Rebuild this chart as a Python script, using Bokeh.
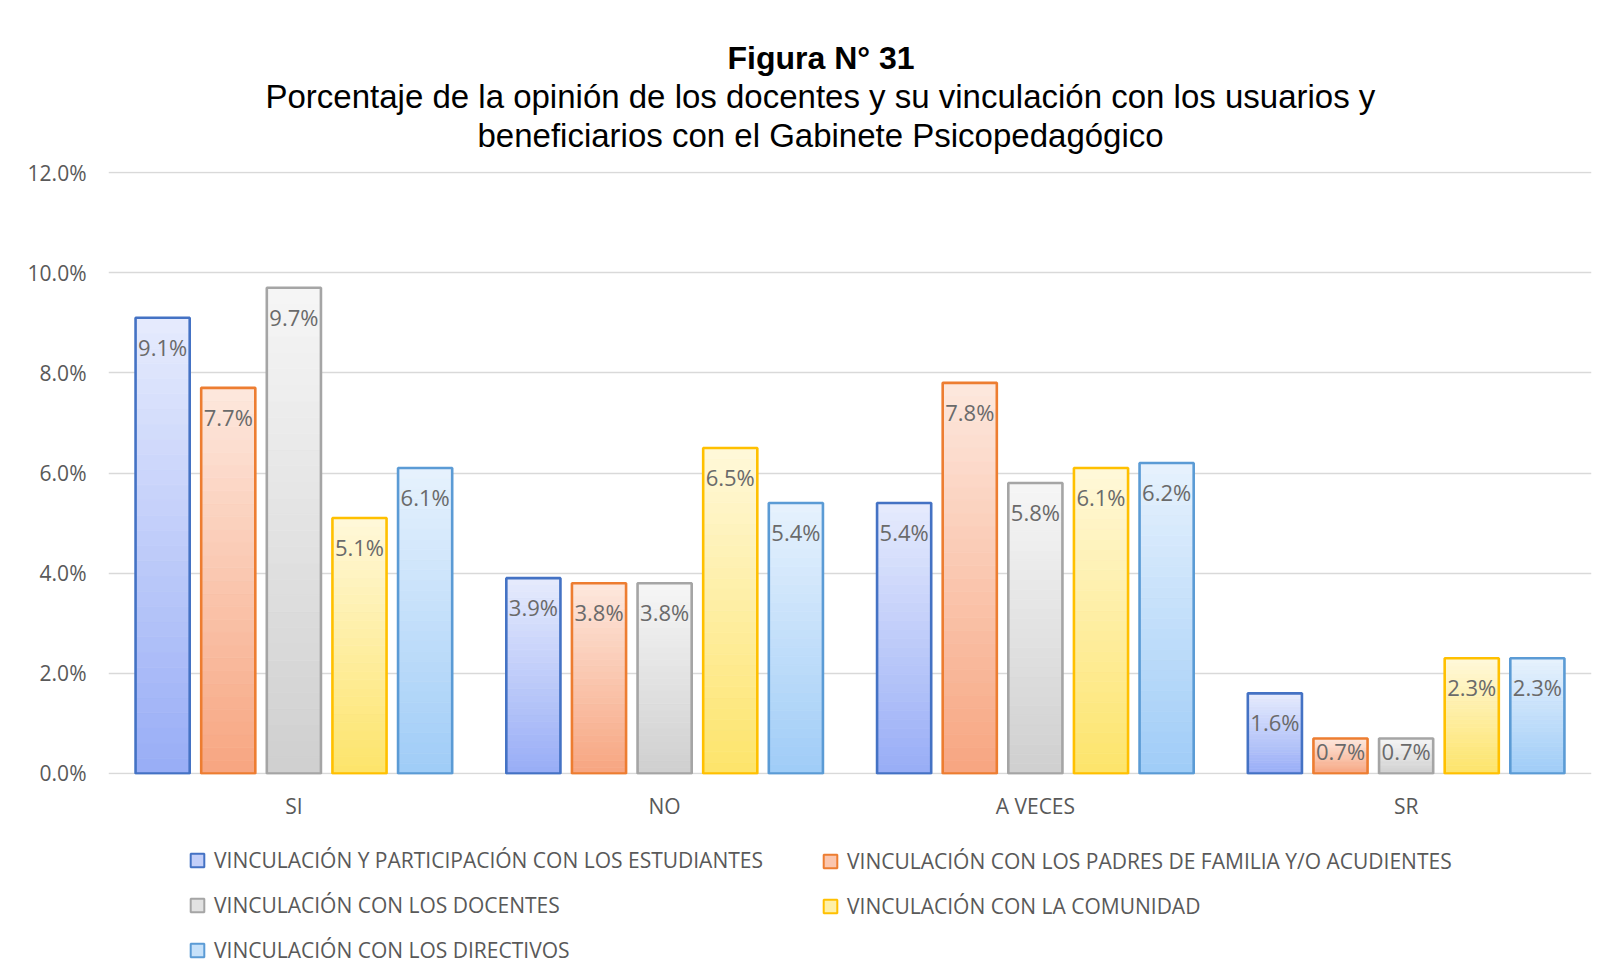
from bokeh.plotting import figure
from bokeh.layouts import column
from bokeh.models import (FactorRange, Range1d, Legend, LegendItem, Title,
                          PrintfTickFormatter, FixedTicker, ColumnDataSource)
from bokeh.transform import dodge
from bokeh.core.properties import value
from bokeh.embed import file_html
from bokeh.resources import INLINE

# ---------------- data ----------------
categories = ["SI", "NO", "A VECES", "SR"]
series_names = [
    "VINCULACIÓN Y PARTICIPACIÓN CON LOS ESTUDIANTES",
    "VINCULACIÓN CON LOS PADRES DE FAMILIA Y/O ACUDIENTES",
    "VINCULACIÓN CON LOS DOCENTES",
    "VINCULACIÓN CON LA COMUNIDAD",
    "VINCULACIÓN CON LOS DIRECTIVOS",
]
estudiantes = [9.1, 3.9, 5.4, 1.6]
padres = [7.7, 3.8, 7.8, 0.7]
docentes = [9.7, 3.8, 5.8, 0.7]
comunidad = [5.1, 6.5, 6.1, 2.3]
directivos = [6.1, 5.4, 6.2, 2.3]
y_ticks = [0, 2, 4, 6, 8, 10, 12]

title_text = "Figura N° 31"
subtitle_1 = "Porcentaje de la opinión de los docentes y su vinculación con los usuarios y"
subtitle_2 = "beneficiarios con el Gabinete Psicopedagógico"

series_values = [estudiantes, padres, docentes, comunidad, directivos]

# ---------------- styles ----------------
line_colors = ["#4472c4", "#ed7d31", "#a5a5a5", "#ffc000", "#5b9bd5"]
top_colors = ["#e6ebfd", "#fde8de", "#f6f6f6", "#fff8da", "#e7f2fd"]
bottom_colors = ["#98adf6", "#f7a580", "#cfcfcf", "#fde46a", "#9fccf7"]
legend_fill = ["#c3cff9", "#fbc6ae", "#e2e2e2", "#fef0a8", "#c6e1fa"]
FONT = "Open Sans"
TXT = "#595959"
PITCH = 0.177
BAR_W = 0.146
N_SLICES = 30


def hex_to_rgb(h):
    h = h.lstrip("#")
    return tuple(int(h[i:i + 2], 16) for i in (0, 2, 4))


def lerp_color(c_bottom, c_top, t):
    a = hex_to_rgb(c_bottom)
    b = hex_to_rgb(c_top)
    return "#%02x%02x%02x" % tuple(int(round(a[k] + (b[k] - a[k]) * t)) for k in range(3))


W = 1610
H_MAIN = 830
H_LEG = 148

p = figure(width=W, height=H_MAIN, output_backend="svg", toolbar_location=None,
           x_range=FactorRange(*categories), y_range=Range1d(-0.02, 12.02),
           min_border_left=108, min_border_right=19, min_border_top=171,
           min_border_bottom=H_MAIN - 774)
p.outline_line_color = None
p.background_fill_color = "white"
p.border_fill_color = "white"

for i, vals in enumerate(series_values):
    off = (i - 2) * PITCH
    # gradient slices
    xs, bots, tops, cols = [], [], [], []
    for j, v in enumerate(vals):
        for k in range(N_SLICES):
            xs.append(categories[j])
            bots.append(v * k / N_SLICES)
            tops.append(v * (k + 1) / N_SLICES)
            cols.append(lerp_color(bottom_colors[i], top_colors[i], (k + 0.5) / N_SLICES))
    src_g = ColumnDataSource(dict(x=xs, bottom=bots, top=tops, c=cols))
    p.vbar(x=dodge("x", off, range=p.x_range), bottom="bottom", top="top", width=BAR_W,
           source=src_g, fill_color="c", line_color="c", line_width=0.8)
    # outline
    src = ColumnDataSource(dict(x=categories, top=vals,
                                label=["%.1f%%" % v for v in vals],
                                ly=[max(v - 0.58, 0.44) for v in vals]))
    p.vbar(x=dodge("x", off, range=p.x_range), bottom=0, top="top", width=BAR_W,
           source=src, fill_color=None, line_color=line_colors[i], line_width=2.6)
    p.text(x=dodge("x", off, range=p.x_range), y="ly", text="label", source=src,
           text_align="center", text_baseline="middle", text_font=value(FONT),
           text_font_size="22px", text_color="#6a6a6a")

# axes
p.yaxis.ticker = FixedTicker(ticks=y_ticks)
p.yaxis.formatter = PrintfTickFormatter(format="%.1f%%")
for ax in (p.xaxis[0], p.yaxis[0]):
    ax.axis_line_color = None
    ax.major_tick_line_color = None
    ax.minor_tick_line_color = None
    ax.major_tick_out = 0
    ax.major_tick_in = 0
    ax.major_label_text_font = FONT
    ax.major_label_text_font_size = "21px"
    ax.major_label_text_color = TXT
p.yaxis.major_label_standoff = 22
p.xaxis.major_label_standoff = 17
p.xgrid.grid_line_color = None
p.ygrid.grid_line_color = "#d9d9d9"
p.ygrid.grid_line_width = 1.6

# titles (added closest-to-frame first); a thin spacer keeps a gap above the frame
p.add_layout(Title(text=" ", standoff=15, text_font_size="1px"), "above")
p.add_layout(Title(text=subtitle_2, align="left", offset=369, standoff=0,
                   text_font="Liberation Sans", text_font_style="normal",
                   text_font_size="33px", text_color="#000000"), "above")
p.add_layout(Title(text=subtitle_1, align="left", offset=157, standoff=0,
                   text_font="Liberation Sans", text_font_style="normal",
                   text_font_size="33px", text_color="#000000"), "above")
p.add_layout(Title(text=title_text, align="left", offset=619, standoff=0,
                   text_font="Liberation Sans", text_font_style="bold",
                   text_font_size="32px", text_color="#000000"), "above")

# ---------------- legend strip ----------------
pl = figure(width=W, height=H_LEG, output_backend="svg", toolbar_location=None,
            x_range=Range1d(0, 1), y_range=Range1d(0, 1),
            x_axis_location=None, y_axis_location=None,
            min_border_left=0, min_border_right=0, min_border_top=0, min_border_bottom=0)
pl.outline_line_color = None
pl.grid.grid_line_color = None
nan = float("nan")
legend_renderers = []
for i in range(len(series_names)):
    r = pl.scatter(x=[nan], y=[nan], marker="square", size=13, fill_color=legend_fill[i],
                   line_color=line_colors[i], line_width=2)
    legend_renderers.append(r)


def make_legend(idx, loc):
    return Legend(items=[LegendItem(label=series_names[k], renderers=[legend_renderers[k]], index=0)
                         for k in idx],
                  location=loc, orientation="vertical", glyph_width=34, glyph_height=34,
                  label_height=34, spacing=11, padding=0, margin=0, border_line_color=None,
                  background_fill_alpha=0, label_text_font=FONT, label_text_font_size="21px",
                  label_text_color=TXT, label_standoff=0)


pl.add_layout(make_legend([0, 2, 4], (72, 11)))
pl.add_layout(make_legend([1, 3], (705, 55)))

layout = column(p, pl, spacing=0)
open("out.html", "w").write(file_html(layout, INLINE))
